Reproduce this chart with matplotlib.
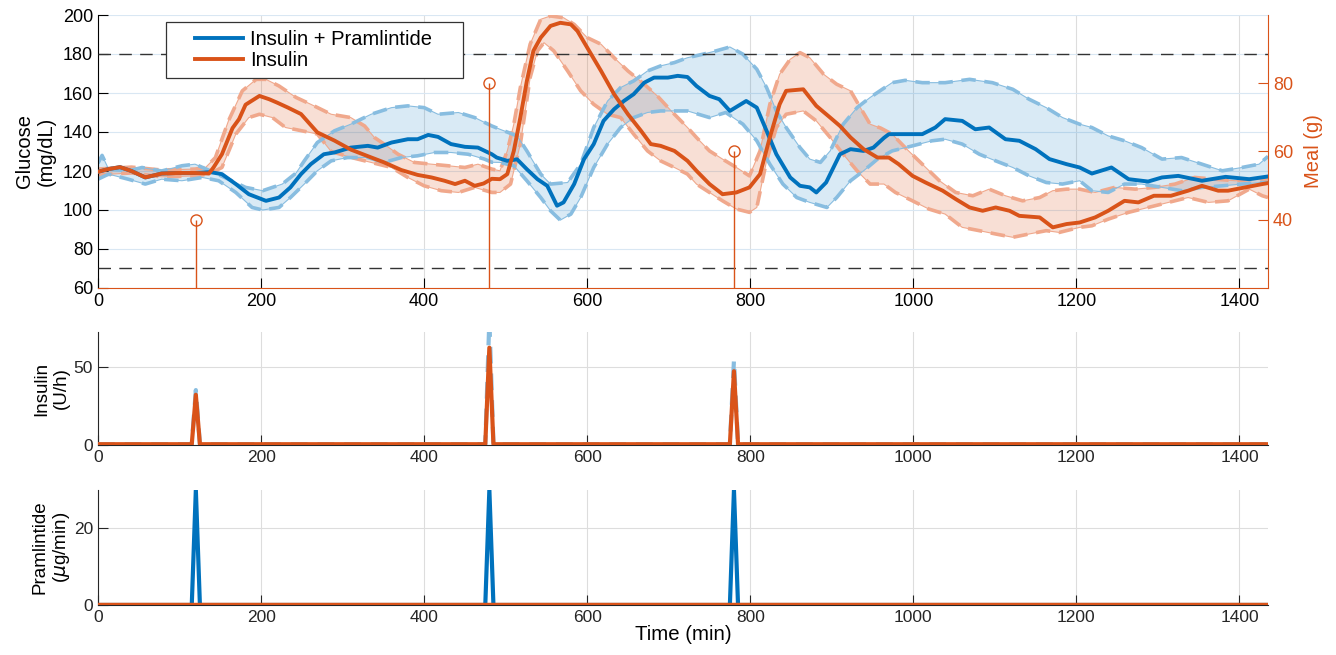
import numpy as np
import matplotlib
matplotlib.use("Agg")
import matplotlib.pyplot as plt
from matplotlib.legend_handler import HandlerLine2D

plt.rcParams['font.family'] = ['Liberation Sans', 'DejaVu Sans']
plt.rcParams['font.size'] = 12

BLUE = '#0072BD'
ORANGE = '#D95319'
LBLUE = '#88bde0'
LORANGE = '#f0a88c'

# ---------------- data ----------------
# Insulin + Pramlintide glucose: mean, upper, lower
b_t = [0, 13, 27, 41, 58, 66, 78, 99, 119, 138, 152, 169, 185, 206, 222, 236, 249, 261, 277, 290, 310, 331, 343,
       360, 380, 392, 405, 417, 433, 450, 466, 483, 489, 502, 514, 526, 539, 551, 563, 571, 584, 596, 608, 620, 633,
       645, 657, 670, 682, 699, 711, 723, 734, 750, 762, 775, 795, 808, 820, 832, 849, 861, 873, 881, 893, 910, 923,
       939, 951, 964, 970, 990, 1011, 1027, 1039, 1060, 1076, 1093, 1113, 1130, 1150, 1167, 1188, 1204, 1219, 1243,
       1264, 1288, 1305, 1325, 1354, 1383, 1412, 1435]
b_mean = [119.6, 121, 122, 120, 116.7, 117.5, 118.7, 119, 119, 119.4, 118.4, 113.3, 108.1, 104.7, 106.4, 111.6, 118.4,
          123.5, 128.6, 129.5, 132, 132.9, 132, 134.6, 136.3, 136.3, 138.5, 137.5, 133.8, 132.4, 132, 128.6, 126.9,
          125.2, 126, 120.9, 115.8, 112.4, 102.2, 103.9, 113.3, 126, 133.8, 145.7, 151.7, 155.9, 159.4, 165.3, 167.9,
          167.9, 168.8, 168.2, 163.6, 158.5, 156.8, 150.8, 155.9, 152.5, 140.6, 128.6, 116.7, 112.4, 111.6, 109,
          114.1, 128.6, 131.2, 130.3, 132, 137, 138.9, 138.9, 138.9, 142.3, 146.6, 145.7, 141.4, 142.3, 136.3, 135.5,
          131.2, 126.1, 123.5, 121.8, 118.7, 121.8, 115.8, 114.6, 116.7, 117.5, 115, 117, 115.8, 117.2]

bu_t = [0, 5, 13, 37, 54, 78, 103, 119, 136, 160, 181, 202, 226, 243, 253, 269, 290, 310, 335, 360, 380, 400, 417, 442,
        462, 483, 493, 514, 526, 543, 555, 576, 592, 608, 625, 641, 657, 674, 690, 707, 723, 742, 758, 775, 791, 808,
        820, 832, 844, 861, 873, 886, 898, 914, 931, 947, 964, 974, 990, 1011, 1039, 1069, 1097, 1122, 1142, 1163,
        1183, 1204, 1219, 1239, 1259, 1280, 1305, 1329, 1354, 1379, 1403, 1424, 1435]
b_upper = [124, 128, 121, 120, 121.8, 120, 122.7, 123.5, 120.4, 115.8, 111.6, 109.9, 113.3, 119, 125.2, 134.6, 140.6,
           144, 149.1, 152.5, 153.4, 152.5, 149.1, 150, 147.4, 143.1, 141.4, 138, 130.3, 118.4, 113.3, 114.1, 123.5,
           142.3, 155.9, 162.8, 166.2, 171.3, 173.9, 175.6, 178.1, 179.9, 181.6, 183.6, 179.9, 172.2, 162.8, 150.8,
           142.3, 132, 126.1, 124.4, 130.3, 144, 152.5, 157.7, 162.5, 165.3, 166.5, 165.3, 165.3, 167, 165.3, 161.9,
           156.8, 152.5, 147.4, 144, 142.3, 138, 135.5, 132, 126.1, 126.9, 123.5, 120.1, 121.8, 123.5, 127.5]

bl_t = [0, 13, 37, 58, 78, 103, 128, 148, 169, 189, 202, 222, 236, 253, 269, 286, 306, 331, 351, 372, 392, 413, 433,
        454, 474, 483, 493, 510, 526, 543, 555, 567, 580, 592, 608, 625, 641, 657, 674, 690, 707, 723, 750, 770, 791,
        808, 824, 840, 857, 873, 894, 906, 923, 939, 956, 974, 999, 1023, 1039, 1060, 1081, 1101, 1122, 1142, 1163,
        1183, 1204, 1219, 1239, 1259, 1280, 1305, 1329, 1354, 1379, 1403, 1428, 1435]
b_lower = [115.8, 118.4, 115.8, 113.3, 115.8, 115, 116.7, 115, 109, 101.3, 100, 101.3, 106.4, 113.3, 120.1, 125.2,
           126.9, 126.9, 124.4, 126.9, 127.8, 129.5, 129.5, 128.6, 126.1, 124.5, 124.4, 122.7, 115, 106.4, 99.6, 94.8,
           97.9, 106.4, 121.8, 133.8, 142.3, 147.4, 150, 150.8, 150.8, 150.8, 147.4, 150, 144, 135.5, 123.5, 113.3,
           106.4, 103.9, 101.3, 106.4, 115, 120.1, 126.1, 130.3, 132.9, 135.5, 136.3, 133.8, 128.6, 125.2, 121.8,
           117.5, 114.1, 113.3, 115, 109.9, 109, 113.3, 113.3, 111.6, 109.9, 111.6, 112.4, 113.3, 114.1, 114.1]

# Insulin only glucose: mean, upper, lower
o_t = [0, 13, 27, 41, 58, 66, 78, 99, 119, 136, 142, 152, 165, 173, 181, 198, 210, 220, 233, 249, 269, 290, 310, 331,
       351, 372, 392, 409, 425, 438, 450, 462, 473, 483, 493, 502, 510, 518, 526, 534, 543, 555, 567, 580, 588, 600,
       617, 633, 650, 666, 678, 690, 707, 723, 734, 750, 766, 783, 799, 812, 824, 836, 844, 865, 881, 898, 910, 923,
       939, 956, 970, 982, 999, 1015, 1036, 1052, 1069, 1085, 1101, 1118, 1130, 1155, 1171, 1188, 1204, 1223, 1239,
       1259, 1276, 1295, 1316, 1337, 1354, 1374, 1386, 1407, 1428, 1435]
o_mean = [119.6, 121, 122, 120, 116.7, 117.5, 118.7, 119, 119, 118.7, 122, 128.6, 142, 146.6, 154, 158.5, 156.8, 155,
          152.5, 149.2, 139.8, 135.6, 131, 127.6, 124.4, 120.5, 118, 116.7, 115, 113.3, 115, 112.4, 113.6, 116, 115.8,
          118.4, 130.3, 147.4, 166.2, 181.6, 188.4, 194.4, 196, 195.2, 191.8, 183.3, 171.3, 159.4, 149.1, 140.6,
          133.8, 132.9, 130.3, 125.2, 120.1, 113.3, 108.1, 109, 111.6, 118.4, 137.2, 154.2, 161.1, 161.9, 153.4,
          147.4, 143.1, 137.2, 131.2, 126.9, 126.9, 123.5, 117.5, 114.1, 109.9, 105.6, 101.3, 99.6, 101.3, 99.6, 97,
          96.2, 91.1, 92.8, 93.6, 96.2, 99.6, 104.7, 103.9, 107.3, 107.3, 109.9, 112.4, 109.9, 109.9, 111.6, 113.3,
          113.8]

ou_t = [0, 41, 78, 119, 132, 144, 160, 177, 194, 206, 222, 243, 261, 286, 310, 327, 339, 351, 368, 388, 409, 429, 450,
        466, 483, 493, 502, 510, 518, 530, 543, 555, 571, 584, 600, 617, 633, 650, 670, 686, 703, 723, 734, 750, 766,
        783, 799, 812, 824, 836, 849, 861, 873, 890, 906, 923, 935, 947, 960, 974, 990, 1011, 1032, 1052, 1073, 1093,
        1113, 1134, 1155, 1171, 1188, 1204, 1223, 1247, 1272, 1296, 1321, 1345, 1370, 1395, 1420, 1435]
o_upper = [121, 122, 120.5, 121, 121.8, 126.9, 145.7, 161.1, 167, 167, 163.6, 157.7, 154.2, 149.1, 147.4, 143.1,
           137.2, 133.8, 128.6, 124.4, 123.5, 122.7, 121.8, 123.5, 121, 120.1, 130.3, 144, 162.8, 185, 197.8, 199.5,
           198.6, 195.2, 188.4, 185, 178.1, 171.3, 164.5, 158.5, 150.8, 142.3, 137.2, 130.3, 126.1, 121.8, 117.5,
           130.3, 154.2, 169.6, 177.3, 180.7, 178.1, 169.6, 164.5, 161.1, 152.5, 144, 142, 138.9, 132, 123.5, 115,
           109, 107.3, 110.7, 107.3, 104.7, 106.4, 109.9, 110.7, 110.7, 109, 111.6, 110.7, 111.6, 113.3, 116.7,
           115.8, 115, 115.8, 115.8]

ol_t = [0, 41, 78, 119, 136, 152, 169, 185, 198, 214, 230, 249, 269, 286, 310, 335, 360, 380, 400, 421, 442, 462, 483,
        493, 506, 518, 530, 539, 547, 559, 576, 592, 608, 625, 641, 657, 674, 690, 707, 723, 734, 750, 766, 783, 799,
        808, 820, 832, 844, 865, 881, 898, 914, 931, 947, 964, 978, 999, 1019, 1039, 1060, 1081, 1101, 1122, 1142,
        1163, 1179, 1204, 1219, 1239, 1264, 1288, 1313, 1337, 1362, 1386, 1412, 1428, 1435]
o_lower = [118, 119, 117, 117.5, 118.4, 121.8, 138.9, 147.4, 149.1, 147.4, 142.3, 140.7, 139, 130, 127, 124.4, 121.8,
           116.7, 112.4, 109.9, 109, 111.6, 109, 109, 113.3, 133.8, 167.9, 181.6, 185.8, 181.6, 171.3, 161.1, 154.2,
           149.1, 147.4, 138.9, 130.3, 125.2, 121.8, 118.4, 113.3, 109, 104.7, 100.5, 98.8, 101.3, 125.2, 142.3,
           149.1, 150.8, 145.7, 137.2, 128.6, 120.1, 113.3, 113.3, 109, 104.7, 100.5, 97.9, 91.1, 89.4, 87.7, 86,
           87.7, 89.4, 88.5, 91.1, 91.9, 95.3, 98.8, 101.3, 103.9, 106.4, 103.9, 104.7, 110.7, 107.3, 106.4]

# Meals
meal_t = [120, 480, 780]
meal_g = [40, 80, 60]

# Insulin (U/h)
ins_t = [0, 115, 120, 125, 475, 480, 485, 775, 780, 785, 1435]
ins_ip = [0.5, 0.5, 35, 0.5, 0.5, 80, 0.5, 0.5, 54, 0.5, 0.5]
ins_i = [0.5, 0.5, 32, 0.5, 0.5, 62, 0.5, 0.5, 47, 0.5, 0.5]

# Pramlintide (ug/min)
pram_t = [0, 115, 120, 125, 475, 480, 485, 775, 780, 785, 1435]
pram_ip = [0, 0, 30, 0, 0, 30, 0, 0, 30, 0, 0]
pram_i = [0, 0, 0, 0, 0, 0, 0, 0, 0, 0, 0]

xticks = [0, 200, 400, 600, 800, 1000, 1200, 1400]
series_labels = ['Insulin + Pramlintide', 'Insulin']

# ---------------- figure ----------------
W, H = 1336, 655
fig = plt.figure(figsize=(W / 100, H / 100), dpi=100)


def rect(l, t, r, b):
    return [l / W, 1 - b / H, (r - l) / W, (b - t) / H]


ax1 = fig.add_axes(rect(98, 15, 1268, 288))
ax2 = fig.add_axes(rect(98, 332, 1268, 445))
ax3 = fig.add_axes(rect(98, 490, 1268, 605))

dash = (0, (4, 2.4))

# bands
ax1.fill(np.concatenate([ou_t, ol_t[::-1]]), np.concatenate([o_upper, o_lower[::-1]]),
         facecolor=ORANGE, alpha=0.18, edgecolor='none', zorder=1)
ax1.fill(np.concatenate([bu_t, bl_t[::-1]]), np.concatenate([b_upper, b_lower[::-1]]),
         facecolor=BLUE, alpha=0.15, edgecolor='none', zorder=1)
for tt, vv, c in [(ou_t, o_upper, LORANGE), (ol_t, o_lower, LORANGE),
                  (bu_t, b_upper, LBLUE), (bl_t, b_lower, LBLUE)]:
    ax1.plot(tt, vv, color=c, lw=0.8, zorder=2)
    ax1.plot(tt, vv, color=c, lw=2.6, ls=dash, zorder=2)

ax1.axhline(180, color='#333333', lw=1, ls=(0, (9, 6)), zorder=3)
ax1.axhline(70, color='#333333', lw=1, ls=(0, (9, 6)), zorder=3)

l1, = ax1.plot(b_t, b_mean, color=BLUE, lw=2.8, zorder=5)
l2, = ax1.plot(o_t, o_mean, color=ORANGE, lw=2.8, zorder=5)

ax1.set_xlim(0, 1435)
ax1.set_ylim(60, 200)
ax1.set_yticks(range(60, 201, 20))
ax1.set_xticks(xticks)
ax1.set_ylabel('Glucose\n(mg/dL)', fontsize=14.5)
ax1.yaxis.set_label_coords(-0.036, 0.5)
ax1.grid(axis='x', color='#dddddd', lw=0.8)
ax1.grid(axis='y', color='#d9e7f3', lw=0.8)
ax1.set_axisbelow(True)
ax1.spines['top'].set_visible(False)
ax1.spines['right'].set_visible(False)
ax1.spines['bottom'].set_color(ORANGE)
ax1.tick_params(direction='in', length=7.5, labelsize=13)

ax1r = ax1.twinx()
ax1r.set_position(ax1.get_position())
ml, sl, bl = ax1r.stem(meal_t, meal_g, linefmt='-', markerfmt='o', basefmt=' ', bottom=0)
plt.setp(sl, color=ORANGE, lw=1)
plt.setp(ml, color=ORANGE, mfc='none', ms=8, mew=1)
ax1r.set_ylim(20, 100)
ax1r.set_yticks([40, 60, 80])
ax1r.set_ylabel('Meal (g)', color=ORANGE, fontsize=14.5)
ax1r.yaxis.set_label_coords(1.031, 0.5)
ax1r.tick_params(axis='y', colors=ORANGE, direction='in', length=7.5, labelsize=13)
for s in ['top', 'left', 'bottom']:
    ax1r.spines[s].set_visible(False)
ax1r.spines['right'].set_color(ORANGE)


class ShiftedLine(HandlerLine2D):
    def create_artists(self, legend, orig_handle, xdescent, ydescent, width, height, fontsize, trans):
        arts = super().create_artists(legend, orig_handle, xdescent, ydescent, width, height, fontsize, trans)
        for a in arts:
            yd = np.asarray(a.get_ydata())
            if len(yd) >= 1:
                a.set_data([-xdescent + 0.3 * width, -xdescent + width], [yd[0], yd[0]])
        return arts


leg = ax1.legend(handles=[l1, l2], labels=[series_labels[0] + '    ', series_labels[1]],
                 loc='upper left', bbox_to_anchor=(0.058, 0.975),
                 fontsize=14.5, frameon=True, fancybox=False, framealpha=1, edgecolor='#333333',
                 handlelength=3.45, labelspacing=0.12, borderpad=0.4, handletextpad=0.35, borderaxespad=0,
                 handler_map={l1: ShiftedLine(), l2: ShiftedLine()})
leg.get_frame().set_linewidth(0.9)
leg.set_zorder(10)

# insulin panel
ax2.plot(ins_t, ins_ip, color=LBLUE, lw=3, ls=dash, zorder=3)
ax2.plot(ins_t, ins_i, color=ORANGE, lw=3, zorder=4)
ax2.set_xlim(0, 1435)
ax2.set_ylim(0, 72)
ax2.set_yticks([0, 50])
ax2.set_xticks(xticks)
ax2.set_ylabel('Insulin\n(U/h)', fontsize=13.5)
ax2.yaxis.set_label_coords(-0.024, 0.5)

# pramlintide panel
ax3.plot(pram_t, pram_ip, color=BLUE, lw=3, zorder=3)
ax3.plot(pram_t, pram_i, color=ORANGE, lw=3.2, zorder=4)
ax3.set_xlim(0, 1435)
ax3.set_ylim(0, 30)
ax3.set_yticks([0, 20])
ax3.set_xticks(xticks)
ax3.set_ylabel('Pramlintide\n($\\mu$g/min)', fontsize=13.5)
ax3.yaxis.set_label_coords(-0.022, 0.5)
ax3.set_xlabel('Time (min)', fontsize=14.7, labelpad=0)

for ax in (ax2, ax3):
    ax.grid(True, color='#dddddd', lw=0.8)
    ax.set_axisbelow(True)
    ax.spines['top'].set_visible(False)
    ax.spines['right'].set_visible(False)
    ax.spines['left'].set_color('#262626')
    ax.spines['bottom'].set_color('#262626')
    ax.tick_params(direction='in', length=7, labelsize=12.5, colors='#262626')

fig.savefig('out.png', dpi=100)
